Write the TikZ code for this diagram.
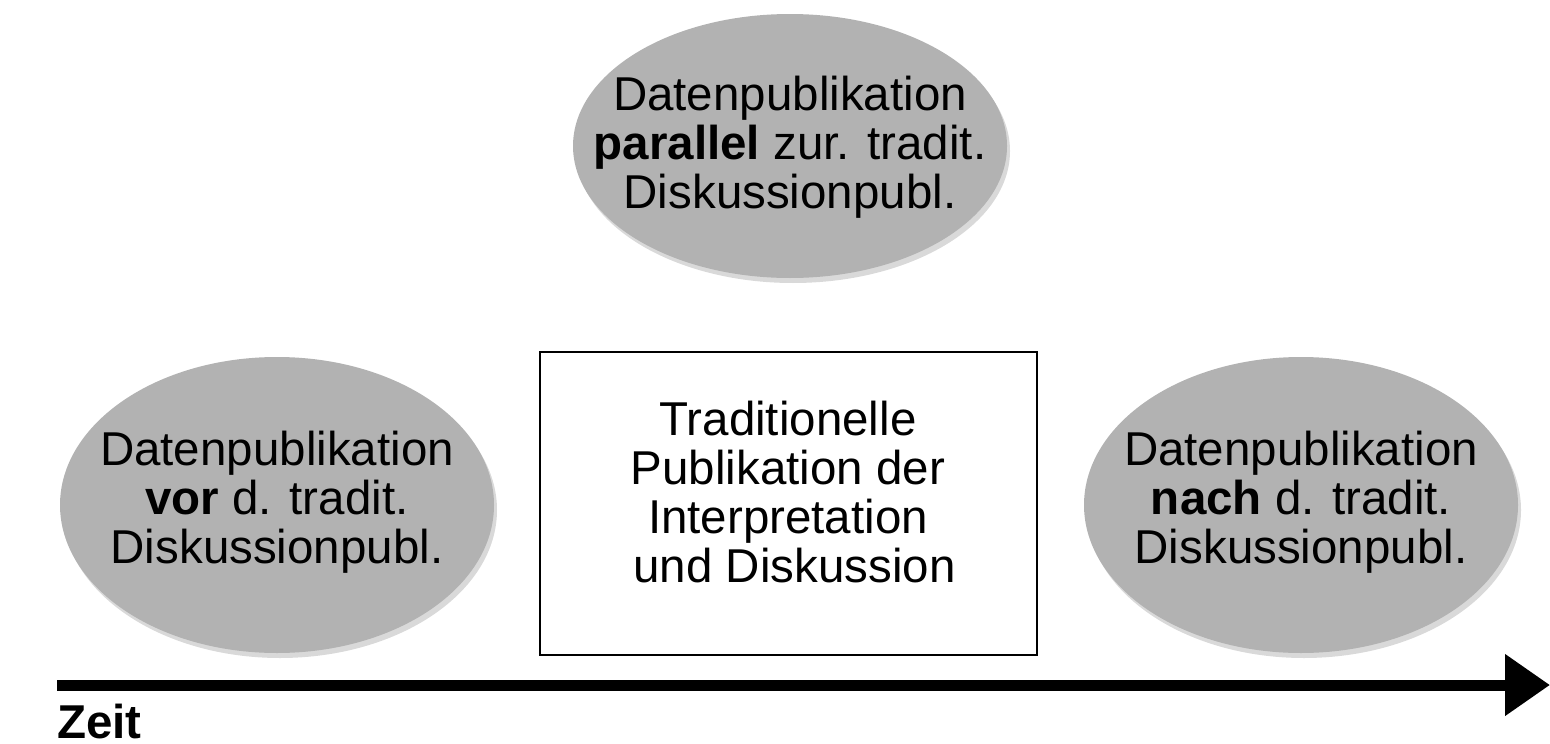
\documentclass[tikz,border=0pt]{standalone}
\usepackage{fontspec}
\setmainfont{Liberation Sans}
\usetikzlibrary{shapes.geometric,shadows,arrows.meta}
\definecolor{ellgray}{RGB}{178,178,178}
\tikzset{
  bubble/.style={ellipse, fill=ellgray, inner sep=0pt, align=center,
    drop shadow={opacity=0.3, shadow xshift=3pt, shadow yshift=-5pt}},
  txt/.style={font=\fontsize{47.5}{49}\selectfont},
  tradbox/.style={draw=black, line width=1.6pt, inner sep=0pt, align=center},
}
\begin{document}
\begin{tikzpicture}[x=1pt,y=-1pt]
\useasboundingbox (0,0) rectangle (1550,744);
\node[bubble, minimum width=434pt, minimum height=264pt] (par) at (790,146) {};
\node[txt, align=center] (partxt) at (790,147) {Datenpublikation\\\textbf{parallel} zur. tradit.\\Diskussionpubl.};
\node[bubble, minimum width=434pt, minimum height=296pt] (vor) at (277,505) {};
\node[txt, align=center] (vortxt) at (277,502) {Datenpublikation\\\textbf{vor} d. tradit.\\Diskussionpubl.};
\node[bubble, minimum width=434pt, minimum height=296pt] (nach) at (1301,505) {};
\node[txt, align=center] (nachtxt) at (1301,502) {Datenpublikation\\\textbf{nach} d. tradit.\\Diskussionpubl.};
\node[tradbox, minimum width=497pt, minimum height=303pt] (trad) at (788.5,503.5) {};
\node[txt, align=center] (tradtxt) at (788,492) {Traditionelle\\Publikation der\\Interpretation\\\ und Diskussion};
\coordinate (tstart) at (57,685);
\coordinate (tend) at (1550,685);
\draw[line width=11pt, -{Triangle[length=45pt, width=59pt]}] (tstart) -- (tend);
\node[txt, anchor=base west, inner sep=0pt] (zeit) at (57,738) {\textbf{Zeit}};
\end{tikzpicture}
\end{document}
